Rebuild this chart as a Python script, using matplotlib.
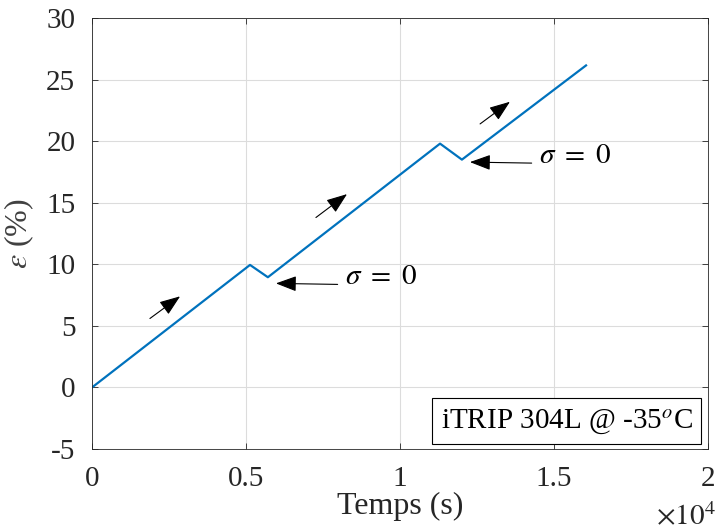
import matplotlib
matplotlib.use("Agg")
import matplotlib.pyplot as plt
from matplotlib.ticker import FuncFormatter

# strain curve
temps = [0, 5130, 5710, 11300, 12010, 16040]
deformation = [0.0, 9.95, 8.95, 19.8, 18.5, 26.15]

# direction arrows (tail -> head)
fleches_x = [(1880, 2860), (7270, 8280), (12600, 13570)]
fleches_y = [(5.6, 7.4), (13.8, 15.7), (21.4, 23.2)]

# sigma = 0 annotations (tip, text position)
sigma_tip = [(5970, 8.45), (12270, 18.3)]
sigma_txt = [(8200, 8.95), (14500, 18.8)]

plt.rcParams['font.family'] = ['Liberation Serif', 'DejaVu Serif']
plt.rcParams['mathtext.fontset'] = 'stix'
plt.rcParams['axes.unicode_minus'] = False
plt.rcParams['font.size'] = 21

fleche = dict(arrowstyle='-|>,head_length=0.75,head_width=0.28',
              color='black', lw=0.8)

fig = plt.figure(figsize=(7.15, 5.3), dpi=100)
ax = fig.add_axes([0.1287, 0.1528, 0.8615, 0.8132])

ax.plot(temps, deformation, color='#0072BD', lw=1.6)

for (x0, x1), (y0, y1) in zip(fleches_x, fleches_y):
    ax.annotate('', xy=(x1, y1), xytext=(x0, y0), fontsize=17,
                arrowprops=dict(fleche, shrinkA=0, shrinkB=0))

for (xt, yt), (xs, ys) in zip(sigma_tip, sigma_txt):
    ax.annotate(r'$\sigma\ =\ 0$', xy=(xt, yt), xytext=(xs, ys),
                va='center', ha='left', fontsize=21,
                arrowprops=dict(fleche, shrinkA=3, shrinkB=0, mutation_scale=17,
                                relpos=(0, 0.22)))

ax.set_xlim(0, 20000)
ax.set_ylim(-5, 30)
ax.set_xticks([0, 5000, 10000, 15000, 20000])
ax.set_yticks(range(-5, 31, 5))
ax.xaxis.set_major_formatter(FuncFormatter(lambda v, p: f'{v/1e4:g}'))
ax.tick_params(direction='in', top=True, right=True, length=4, width=0.6,
               colors='#262626', labelsize=21)
ax.tick_params(axis='x', pad=12)
ax.tick_params(axis='y', pad=12)
ax.grid(True, color='#dcdcdc', lw=0.8)
for s in ax.spines.values():
    s.set_linewidth(0.6)
    s.set_color('#262626')

ax.set_xlabel('Temps (s)', fontsize=23, color='#262626', labelpad=0)
ax.set_ylabel(r'$\varepsilon$ (%)', fontsize=23, color='#404040', labelpad=7)
ax.text(1.012, -0.125, r'$\times 10^4$', transform=ax.transAxes, ha='right',
        va='top', fontsize=21, color='#262626')

ax.text(0.975, 0.031, r'iTRIP 304L @ -35$^o$C', transform=ax.transAxes,
        ha='right', va='bottom', fontsize=21,
        bbox=dict(boxstyle='square,pad=0.3', fc='white', ec='black', lw=0.8))

plt.savefig('out.png', dpi=100)
plt.close()
